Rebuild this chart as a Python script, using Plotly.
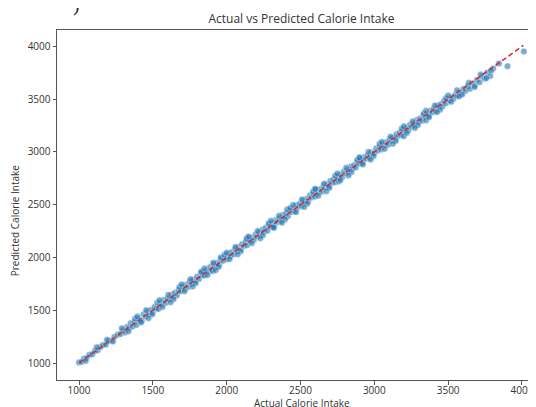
import plotly.graph_objects as go

actual = [
    1000, 1018, 1035, 1052, 1071, 1090, 1108, 1126, 1145, 1163, 1182, 1200, 1221, 1240, 1262, 1281,
    1298, 1312, 1325, 1337, 1350, 1362, 1375, 1388, 1400, 1412, 1425, 1438, 1450, 1463, 1475, 1488,
    1500, 1512, 1525, 1538, 1550, 1562, 1575, 1588, 1600,
    1612, 1625, 1637, 1650, 1662, 1675, 1687, 1700, 1712, 1725, 1737, 1750, 1762, 1775, 1787, 1800,
    1812, 1825, 1837, 1850, 1862, 1875, 1887, 1900, 1912, 1925, 1937, 1950, 1962, 1975, 1987, 2000,
    1840, 1905, 1960,
    2012, 2023, 2035, 2046, 2058, 2069, 2081, 2092, 2104, 2115, 2127, 2138, 2150, 2161, 2173, 2184,
    2196, 2207, 2219, 2230, 2242, 2253, 2265, 2276, 2288, 2299, 2311, 2322, 2334, 2345, 2357, 2368,
    2380, 2391, 2403, 2414, 2426, 2437, 2449, 2460, 2472, 2483, 2495, 2140, 2320, 2410,
    2506, 2518, 2529, 2541, 2552, 2564, 2575, 2587, 2598, 2610, 2621, 2633, 2644, 2656, 2667, 2679,
    2690, 2702, 2713, 2725, 2736, 2748, 2759, 2771, 2782, 2794, 2805, 2817, 2828, 2840, 2851, 2863,
    2874, 2886, 2897, 2909, 2920, 2932, 2943, 2955, 2966, 2978, 2989, 2600, 2760, 2900,
    3001, 3012, 3024, 3035, 3047, 3058, 3070, 3081, 3093, 3104, 3116, 3127, 3139, 3150, 3162, 3173,
    3185, 3196, 3208, 3219, 3231, 3242, 3254, 3265, 3277, 3288, 3300, 3311, 3323, 3334, 3346, 3357,
    3369, 3380, 3392, 3403, 3415, 3426, 3438, 3449, 3461, 3472, 3484, 3495, 3200, 3350,
    3510, 3522, 3535, 3548, 3561, 3575, 3590, 3604, 3618, 3633, 3648, 3662, 3678, 3695, 3712, 3730,
    3748, 3765, 3785, 3805, 3844, 3902, 4013,
    1045, 1120, 1190, 1230, 1290, 1335, 1380, 1420, 1455, 1495, 1530, 1565, 1605, 1640, 1680, 1715,
    1755, 1790, 1828, 1870, 1910, 1945, 1985, 2020, 2060, 2095, 2135, 2170, 2210, 2245, 2285, 2318,
    2355, 2395, 2430, 2470, 2510, 2545, 2585, 2620, 2660, 2695, 2735, 2770, 2810, 2845, 2885, 2922,
    2960, 2995, 3035, 3070, 3110, 3145, 3185, 3220, 3260, 3295, 3335, 3370, 3410, 3445, 3485, 3520,
    3560, 3595, 3640, 3680, 3720, 3760, 3790,
    1395, 1470, 1545, 1620, 1695, 1770, 1850, 1925, 2000, 2075, 2150, 2228, 2300, 2375, 2450, 2525,
    2600, 2675, 2750, 2825, 2900, 2975, 3050, 3125, 3200, 3275, 3350, 3425, 3500, 3575,
]

predicted = [
    1004, 1012, 1041, 1047, 1078, 1083, 1115, 1121, 1152, 1170, 1175, 1209, 1214, 1247, 1268, 1275,
    1310, 1289, 1342, 1330, 1378, 1345, 1390, 1361, 1421, 1405, 1398, 1462, 1441, 1487, 1460, 1503,
    1479, 1530, 1519, 1512, 1571, 1555, 1598, 1570, 1612,
    1601, 1648, 1622, 1666, 1640, 1693, 1680, 1725, 1698, 1741, 1719, 1772, 1750, 1790, 1769, 1818,
    1796, 1852, 1830, 1829, 1881, 1866, 1908, 1884, 1935, 1911, 1950, 1931, 1985, 1968, 2004, 1982,
    1870, 1872, 2001,
    2035, 2009, 2051, 2028, 2082, 2060, 2097, 2071, 2125, 2108, 2141, 2116, 2173, 2152, 2185, 2165,
    2219, 2198, 2236, 2208, 2262, 2245, 2281, 2254, 2310, 2290, 2328, 2301, 2356, 2337, 2371, 2346,
    2402, 2384, 2419, 2392, 2447, 2430, 2462, 2438, 2494, 2476, 2510, 2190, 2280, 2455,
    2489, 2541, 2522, 2555, 2531, 2587, 2569, 2601, 2577, 2632, 2614, 2647, 2622, 2678, 2660, 2692,
    2668, 2724, 2706, 2738, 2714, 2769, 2752, 2784, 2760, 2815, 2798, 2829, 2806, 2861, 2844, 2875,
    2852, 2906, 2890, 2921, 2898, 2952, 2936, 2967, 2944, 2997, 2982, 2650, 2720, 2950,
    2990, 3032, 3015, 3047, 3024, 3077, 3061, 3092, 3069, 3122, 3106, 3137, 3114, 3167, 3151, 3182,
    3160, 3212, 3196, 3227, 3205, 3257, 3241, 3272, 3250, 3302, 3285, 3317, 3295, 3347, 3330, 3362,
    3340, 3391, 3374, 3407, 3385, 3436, 3418, 3452, 3430, 3481, 3462, 3497, 3150, 3300,
    3488, 3519, 3502, 3541, 3530, 3566, 3551, 3597, 3580, 3622, 3600, 3650, 3631, 3682, 3660, 3716,
    3693, 3752, 3720, 3790, 3839, 3813, 3953,
    1020, 1150, 1220, 1205, 1330, 1300, 1420, 1385, 1500, 1460, 1570, 1530, 1645, 1605, 1720, 1680,
    1795, 1755, 1865, 1835, 1950, 1910, 2025, 1985, 2100, 2060, 2175, 2135, 2250, 2210, 2325, 2286,
    2395, 2360, 2470, 2430, 2550, 2510, 2625, 2585, 2700, 2660, 2775, 2735, 2850, 2810, 2925, 2882,
    3000, 2960, 3075, 3030, 3145, 3105, 3220, 3180, 3290, 3255, 3365, 3330, 3440, 3400, 3510, 3475,
    3585, 3545, 3655, 3615, 3735, 3700, 3770,
    1440, 1425, 1595, 1575, 1745, 1725, 1895, 1880, 2045, 2030, 2198, 2182, 2348, 2330, 2497, 2478,
    2648, 2628, 2795, 2778, 2945, 2928, 3095, 3078, 3243, 3228, 3390, 3378, 3535, 3528,
]

ideal_x = [1000, 4010]
ideal_y = [1000, 4010]

x_ticks = [1000, 1500, 2000, 2500, 3000, 3500, 4000]
y_ticks = [1000, 1500, 2000, 2500, 3000, 3500, 4000]

FONT = "Open Sans"
TXT = "#333333"

# the page body adds an 8px offset; layout below is expressed in figure pixels
L, T, PLOT_W, PLOT_H = 49, 21.5, 479, 350.5
W, H = 536, 407

fig = go.Figure()
fig.add_trace(go.Scatter(
    x=actual, y=predicted, mode="markers",
    marker=dict(size=6.5, color="rgba(31,119,180,0.6)",
                line=dict(color="rgba(255,255,255,0.8)", width=0.5)),
    showlegend=False, hoverinfo="skip",
))
fig.add_trace(go.Scatter(
    x=ideal_x, y=ideal_y, mode="lines",
    line=dict(color="#d62728", width=1.5, dash="5px,3px"),
    showlegend=False, hoverinfo="skip",
))

axis_common = dict(
    showgrid=False, zeroline=False, showline=True, linecolor="#555555", linewidth=1,
    ticks="outside", ticklen=3.5, tickwidth=1, tickcolor="#555555",
    tickfont=dict(family=FONT, size=10, color=TXT), automargin=False,
)

fig.update_layout(
    width=W, height=H,
    margin=dict(l=L, r=W - L - PLOT_W, t=T, b=H - T - PLOT_H),
    paper_bgcolor="white", plot_bgcolor="white",
    title=dict(text="Actual vs Predicted Calorie Intake", x=293.5 / W, xanchor="center",
               y=1 - 11 / H, yanchor="middle",
               font=dict(family=FONT, size=12, color=TXT)),
    xaxis=dict(range=[851, 4095], tickvals=x_ticks, mirror=True, ticklabelstandoff=-3,
               **axis_common),
    yaxis=dict(range=[839, 4156], tickvals=y_ticks, mirror=False, **axis_common),
    annotations=[
        dict(text="Actual Calorie Intake", xref="paper", yref="paper",
             x=(294 - L) / PLOT_W, y=-(395 - T - PLOT_H) / PLOT_H, yanchor="middle",
             showarrow=False, font=dict(family=FONT, size=10, color=TXT)),
        dict(text="Predicted Calorie Intake", xref="paper", yref="paper",
             x=-(L - 7) / PLOT_W, y=(T + PLOT_H - 212) / PLOT_H, xanchor="center", yanchor="middle",
             textangle=-90, showarrow=False, font=dict(family=FONT, size=10, color=TXT)),
        dict(text=")", xref="paper", yref="paper",
             x=(63 - L) / PLOT_W, y=1 + (T - 9) / PLOT_H, yanchor="bottom",
             showarrow=False, font=dict(family="Liberation Serif", size=20, color="#222222")),
    ],
)

fig.write_html("out.html")
